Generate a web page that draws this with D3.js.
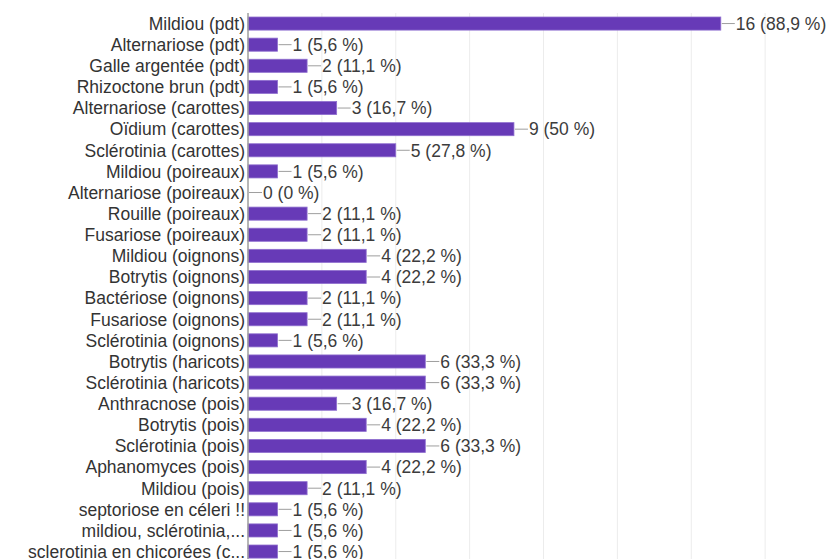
<!DOCTYPE html>
<html>
<head>
<meta charset="utf-8">
<script src="https://cdn.jsdelivr.net/npm/d3@7"></script>
<style>
  html, body { margin: 0; padding: 0; background: #fff; }
  svg { display: block; }
  text { font-family: "Liberation Sans", Arial, sans-serif; }
</style>
</head>
<body>
<script>
// Maladies observées : nombre de réponses par maladie
const categories = [
  "Mildiou (pdt)", "Alternariose (pdt)", "Galle argentée (pdt)", "Rhizoctone brun (pdt)",
  "Alternariose (carottes)", "Oïdium (carottes)", "Sclérotinia (carottes)",
  "Mildiou (poireaux)", "Alternariose (poireaux)", "Rouille (poireaux)", "Fusariose (poireaux)",
  "Mildiou (oignons)", "Botrytis (oignons)", "Bactériose (oignons)", "Fusariose (oignons)",
  "Sclérotinia (oignons)", "Botrytis (haricots)", "Sclérotinia (haricots)",
  "Anthracnose (pois)", "Botrytis (pois)", "Sclérotinia (pois)", "Aphanomyces (pois)",
  "Mildiou (pois)", "septoriose en céleri !!", "mildiou, sclérotinia,...", "sclerotinia en chicorées (c..."
];
const counts = [16, 1, 2, 1, 3, 9, 5, 1, 0, 2, 2, 4, 4, 2, 2, 1, 6, 6, 3, 4, 6, 4, 2, 1, 1, 1];
const respondents = 18;
const gridTicks = [0, 2.5, 5, 7.5, 10, 12.5, 15, 17.5, 20];

const W = 830, H = 559;
const svg = d3.select("body").append("svg").attr("width", W).attr("height", H);

const x = d3.scaleLinear().domain([0, 20]).range([248, 839]);
const y = d3.scaleBand().domain(categories).range([13, 13 + 21.12 * categories.length])
  .paddingInner(0.38).paddingOuter(0.19);

// vertical gridlines
svg.append("g").selectAll("line").data(gridTicks.slice(1)).join("line")
  .attr("x1", d => x(d)).attr("x2", d => x(d))
  .attr("y1", 13).attr("y2", H)
  .attr("stroke", "#ececec").attr("stroke-width", 1);

const fmtPct = v => {
  const p = Math.round(v / respondents * 1000) / 10;
  return String(p).replace(".", ",") + " %";
};

const rows = svg.append("g").selectAll("g").data(categories.map((c, i) => ({ c, v: counts[i] })))
  .join("g");

// bars
rows.append("rect")
  .attr("x", x(0))
  .attr("y", d => y(d.c))
  .attr("width", d => x(d.v) - x(0))
  .attr("height", y.bandwidth())
  .attr("fill", "#673ab7")
  .attr("stroke", "#8f6fcf").attr("stroke-width", d => d.v > 0 ? 0.8 : 0);

// leader lines
rows.append("line")
  .attr("x1", d => x(d.v) + 1).attr("x2", d => x(d.v) + 14)
  .attr("y1", d => y(d.c) + y.bandwidth() / 2).attr("y2", d => y(d.c) + y.bandwidth() / 2)
  .attr("stroke", "#9e9e9e").attr("stroke-width", 1);

// value labels
rows.append("text")
  .attr("x", d => x(d.v) + 15)
  .attr("y", d => y(d.c) + y.bandwidth() / 2)
  .attr("dy", "0.36em")
  .attr("font-size", 17.5)
  .attr("fill", "#3c3c3c")
  .text(d => `${d.v} (${fmtPct(d.v)})`);

// category labels
rows.append("text")
  .attr("x", 245)
  .attr("y", d => y(d.c) + y.bandwidth() / 2)
  .attr("dy", "0.36em")
  .attr("text-anchor", "end")
  .attr("font-size", 17.5)
  .attr("fill", "#333")
  .text(d => d.c);

// axis line
svg.append("line")
  .attr("x1", x(0)).attr("x2", x(0))
  .attr("y1", 13).attr("y2", H)
  .attr("stroke", "#9e9e9e").attr("stroke-width", 1.5);
</script>
</body>
</html>
